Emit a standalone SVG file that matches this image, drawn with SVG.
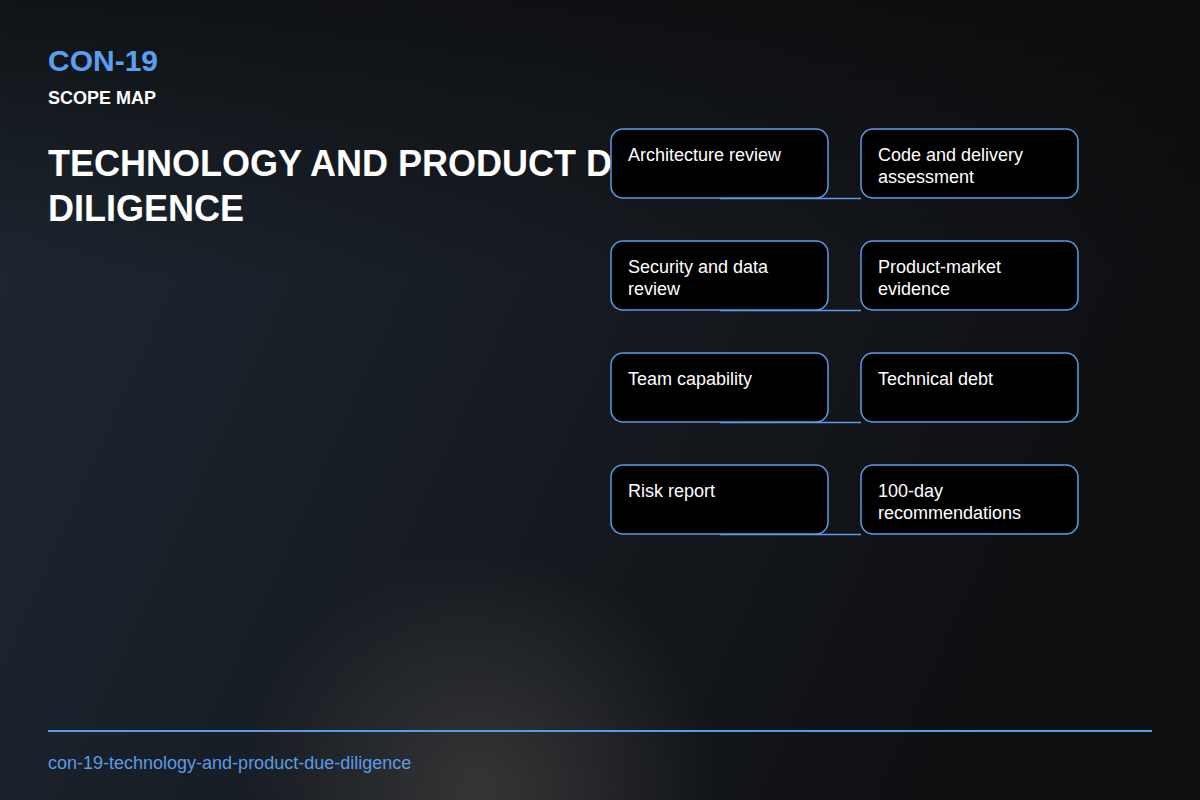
<svg xmlns="http://www.w3.org/2000/svg" width="1200" height="800" viewBox="0 0 1200 800">
<defs>
<linearGradient id="bg" x1="0" y1="0" x2="1" y2="0.3">
<stop offset="0" stop-color="#1e2833"/>
<stop offset="0.5" stop-color="#171c23"/>
<stop offset="1" stop-color="#0e0f11"/>
</linearGradient>
<linearGradient id="topfade" x1="0" y1="0" x2="0" y2="1">
<stop offset="0" stop-color="#0a0a0a" stop-opacity="0.7"/>
<stop offset="0.35" stop-color="#0a0a0a" stop-opacity="0"/>
</linearGradient>
<radialGradient id="glow" cx="480" cy="790" r="240" gradientUnits="userSpaceOnUse">
<stop offset="0" stop-color="#3a3a3a" stop-opacity="0.85"/>
<stop offset="1" stop-color="#3a3a3a" stop-opacity="0"/>
</radialGradient>
<style>
.node rect{fill:#000;stroke:#5a9be8;stroke-width:1.5}
.node text{font-family:"Liberation Sans",Arial,sans-serif;font-size:18px;fill:#fff}
.edge{stroke:#5a9be8;stroke-width:1.5;fill:none}
</style>
</defs>
<rect width="1200" height="800" fill="url(#bg)"/>
<rect width="1200" height="800" fill="url(#topfade)"/>
<rect width="1200" height="800" fill="url(#glow)"/>
<g id="header" font-family="Liberation Sans,Arial,sans-serif" font-weight="bold">
<text x="48" y="71" font-size="30" fill="#5aa0f0">CON-19</text>
<text x="48" y="104" font-size="18" fill="#fff">SCOPE MAP</text>
<text x="48" y="176" font-size="36" fill="#fff">TECHNOLOGY AND PRODUCT DUE</text>
<text x="48" y="221" font-size="36" fill="#fff">DILIGENCE</text>
</g>
<g id="connectors">
<path class="edge" d="M720 198.5 H861"/>
<path class="edge" d="M720 310.5 H861"/>
<path class="edge" d="M720 422.5 H861"/>
<path class="edge" d="M720 534.5 H861"/>
</g>
<g id="n1" class="node"><rect x="611" y="129" width="217" height="69" rx="12"/><text x="628" y="161">Architecture review</text></g>
<g id="n2" class="node"><rect x="861" y="129" width="217" height="69" rx="12"/><text x="878" y="161">Code and delivery</text><text x="878" y="183">assessment</text></g>
<g id="n3" class="node"><rect x="611" y="241" width="217" height="69" rx="12"/><text x="628" y="273">Security and data</text><text x="628" y="295">review</text></g>
<g id="n4" class="node"><rect x="861" y="241" width="217" height="69" rx="12"/><text x="878" y="273">Product-market</text><text x="878" y="295">evidence</text></g>
<g id="n5" class="node"><rect x="611" y="353" width="217" height="69" rx="12"/><text x="628" y="385">Team capability</text></g>
<g id="n6" class="node"><rect x="861" y="353" width="217" height="69" rx="12"/><text x="878" y="385">Technical debt</text></g>
<g id="n7" class="node"><rect x="611" y="465" width="217" height="69" rx="12"/><text x="628" y="497">Risk report</text></g>
<g id="n8" class="node"><rect x="861" y="465" width="217" height="69" rx="12"/><text x="878" y="497">100-day</text><text x="878" y="519">recommendations</text></g>
<g id="footer">
<line x1="48" y1="731" x2="1152" y2="731" stroke="#5a9be8" stroke-width="2"/>
<text x="48" y="769" font-family="Liberation Sans,Arial,sans-serif" font-size="18" fill="#5a9be8">con-19-technology-and-product-due-diligence</text>
</g>
</svg>
